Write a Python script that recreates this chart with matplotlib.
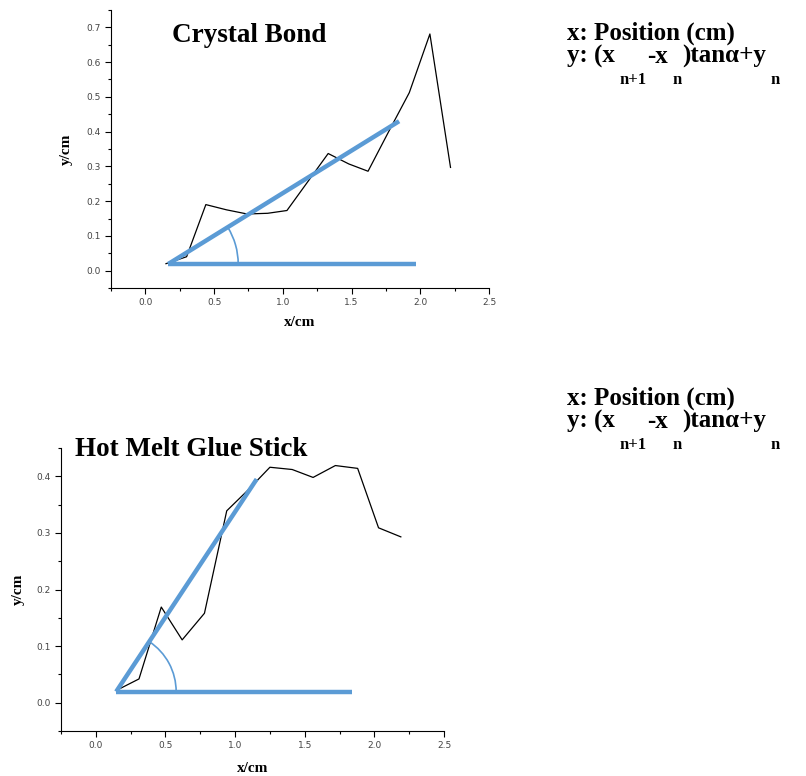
import matplotlib
matplotlib.use('Agg')
import matplotlib.pyplot as plt
import matplotlib.ticker as ticker
from matplotlib.patches import Arc
import numpy as np

BLUE = '#5B9BD5'
SERIF = 'Liberation Serif'
W, H = 806, 776

# Crystal Bond profile
cb_x = [0.15, 0.30, 0.44, 0.59, 0.74, 0.89, 1.03, 1.18, 1.33, 1.48, 1.62, 1.77, 1.92, 2.07, 2.22]
cb_y = [0.020, 0.040, 0.190, 0.175, 0.163, 0.165, 0.173, 0.255, 0.337, 0.307, 0.286, 0.400, 0.512, 0.681, 0.297]
cb_tan = ([0.166, 1.846], [0.019, 0.430])
cb_base = ([0.166, 1.968], [0.019, 0.019])

# Hot Melt Glue Stick profile
hm_x = [0.15, 0.31, 0.47, 0.62, 0.78, 0.94, 1.09, 1.25, 1.41, 1.56, 1.72, 1.88, 2.03, 2.19]
hm_y = [0.022, 0.042, 0.169, 0.111, 0.158, 0.339, 0.375, 0.416, 0.412, 0.398, 0.419, 0.414, 0.309, 0.293]
hm_tan = ([0.146, 1.155], [0.0195, 0.395])
hm_base = ([0.146, 1.837], [0.0195, 0.0195])

fig = plt.figure(figsize=(W / 100, H / 100), dpi=100)
fig.patch.set_facecolor('white')


def panel(rect, xs, ys, tan, base, ylim, arc_r, ylab_px, xlab_px):
    ax = fig.add_axes(rect)
    ax.plot(xs, ys, color='black', lw=0.9)
    ax.plot(*tan, color=BLUE, lw=3.2, solid_capstyle='butt')
    ax.plot(*base, color=BLUE, lw=3.2, solid_capstyle='butt')
    ax.set_xlim(-0.25, 2.5)
    ax.set_ylim(*ylim)
    ax.spines[['top', 'right']].set_visible(False)
    ax.xaxis.set_major_locator(ticker.MultipleLocator(0.5))
    ax.xaxis.set_minor_locator(ticker.MultipleLocator(0.25))
    ax.yaxis.set_major_locator(ticker.MultipleLocator(0.1))
    ax.yaxis.set_minor_locator(ticker.MultipleLocator(0.05))
    ax.xaxis.set_major_formatter(ticker.FormatStrFormatter('%.1f'))
    ax.yaxis.set_major_formatter(ticker.FormatStrFormatter('%.1f'))
    ax.tick_params(which='both', direction='out', labelsize=6.5, labelcolor='#444444', width=0.8)
    ax.tick_params(which='major', length=4)
    ax.tick_params(which='minor', length=2.5)
    ax.set_xlabel('x/cm', family=SERIF, fontweight='bold', fontsize=11, va='center')
    ax.set_ylabel('y/cm', family=SERIF, fontweight='bold', fontsize=11, va='center')
    wpx, hpx = rect[2] * W, rect[3] * H
    ax.yaxis.set_label_coords(-ylab_px / wpx, 0.5)
    ax.xaxis.set_label_coords(0.5, -xlab_px / hpx)
    # angle arc: circular on screen, from the base line up to the tangent line
    ang = np.degrees(np.arctan2(tan[1][1] - tan[1][0], tan[0][1] - tan[0][0]))
    sx = wpx / (ax.get_xlim()[1] - ax.get_xlim()[0])
    sy = hpx / (ax.get_ylim()[1] - ax.get_ylim()[0])
    ax.add_patch(Arc((tan[0][0], tan[1][0]), 2 * arc_r / sx, 2 * arc_r / sy,
                     theta1=0, theta2=ang, color=BLUE, lw=1.2))
    return ax


ax1 = panel([111 / W, 1 - 288 / H, 378 / W, 278 / H], cb_x, cb_y, cb_tan, cb_base, (-0.05, 0.75), 70, 45, 35)
ax2 = panel([61 / W, 1 - 731 / H, 383 / W, 283 / H], hm_x, hm_y, hm_tan, hm_base, (-0.05, 0.45), 60, 43, 37)

fig.text(172 / W, 1 - 41.7 / H, 'Crystal Bond', family=SERIF, fontweight='bold', fontsize=19.5, va='baseline')
fig.text(75 / W, 1 - 456.5 / H, 'Hot Melt Glue Stick', family=SERIF, fontweight='bold', fontsize=19.5, va='baseline')

renderer = fig.canvas.get_renderer()


def formula(x0, base):
    # y: (x_{n+1}-x_n)tanα+y_n, with low-set subscripts as in the source
    pieces = [('y: (x', 0), ('n+1', 1), ('-x', 0), ('n', 1), (')tan\u03b1+y', 0), ('n', 1)]
    x = x0
    for s, sub in pieces:
        if sub:
            x += 5
            t = fig.text(x / W, 1 - (base + 21) / H, s, family=SERIF, fontweight='bold', fontsize=12, va='baseline')
        else:
            t = fig.text(x / W, 1 - base / H, s, family=SERIF, fontweight='bold', fontsize=18, va='baseline')
        x = t.get_window_extent(renderer).x1


for off in (0, 365):
    fig.text(567 / W, 1 - (39.5 + off) / H, 'x: Position (cm)', family=SERIF, fontweight='bold', fontsize=18, va='baseline')
    formula(567, 63 + off)

fig.savefig('out.png', dpi=100, facecolor='white')
